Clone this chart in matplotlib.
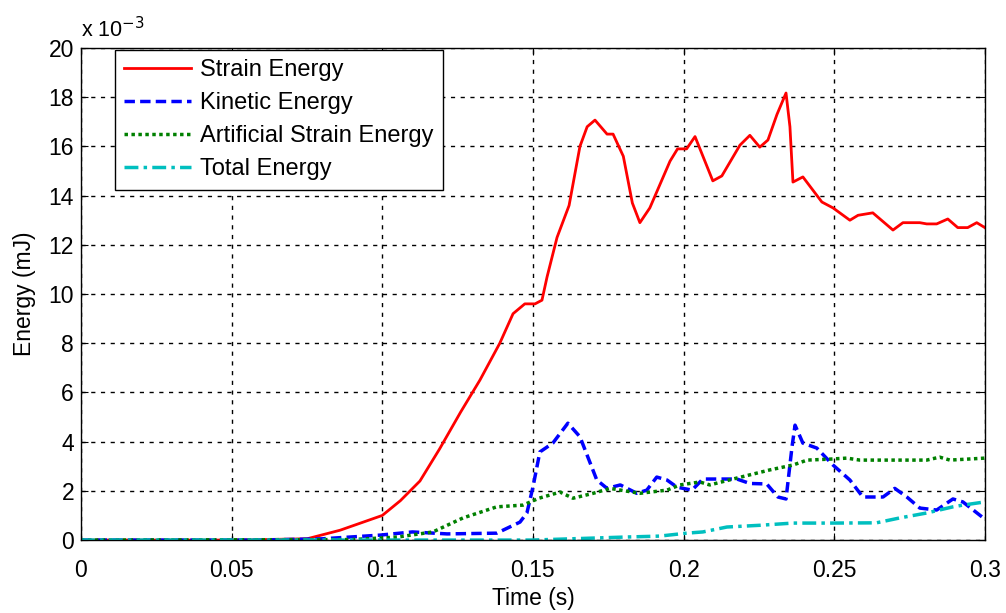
import matplotlib
matplotlib.use('Agg')
from matplotlib import pyplot as plt

plt.rcParams['font.family'] = ['Liberation Sans', 'DejaVu Sans']

# values in units of 1e-3 mJ
t_strain = [0, 0.05, 0.075, 0.086, 0.1, 0.106, 0.1125, 0.119, 0.126, 0.1324, 0.139, 0.1434,
            0.1473, 0.1507, 0.153, 0.1547, 0.158, 0.162, 0.1656, 0.168, 0.1706, 0.1746, 0.1766,
            0.18, 0.183, 0.1855, 0.1888, 0.1955, 0.198, 0.201, 0.2038, 0.2097, 0.2127, 0.2187,
            0.222, 0.2253, 0.228, 0.231, 0.234, 0.2353, 0.2363, 0.2396, 0.2459, 0.2496, 0.2552,
            0.2579, 0.2628, 0.2695, 0.2728, 0.2784, 0.2807, 0.284, 0.2877, 0.291, 0.2943,
            0.2973, 0.3]
strain = [0, 0, 0.05, 0.4, 1.0, 1.6, 2.4, 3.7, 5.2, 6.5, 8.0, 9.2,
          9.6, 9.6, 9.75, 10.7, 12.3, 13.6, 16.0, 16.8, 17.07, 16.5, 16.5,
          15.6, 13.7, 12.9, 13.5, 15.4, 15.9, 15.9, 16.4, 14.6, 14.8, 16.05,
          16.45, 15.97, 16.26, 17.3, 18.17, 16.8, 14.55, 14.76, 13.74, 13.5, 13.0,
          13.2, 13.3, 12.6, 12.9, 12.9, 12.85, 12.85, 13.05, 12.7, 12.7,
          12.9, 12.7]

t_kinetic = [0, 0.06, 0.08, 0.0992, 0.110, 0.1215, 0.138, 0.1457, 0.148, 0.15, 0.1523, 0.1566,
             0.1616, 0.1656, 0.1712, 0.1746, 0.179, 0.1845, 0.1878, 0.1911, 0.1945, 0.1978,
             0.2028, 0.2064, 0.2177, 0.222, 0.2276, 0.2313, 0.234, 0.236, 0.237, 0.2396,
             0.2442, 0.2496, 0.2552, 0.2595, 0.2662, 0.2701, 0.2741, 0.2784, 0.284, 0.2894,
             0.2927, 0.3]
kinetic = [0, 0, 0.05, 0.2, 0.33, 0.25, 0.28, 0.73, 1.1, 2.15, 3.58, 3.94,
           4.75, 4.2, 2.44, 2.1, 2.24, 1.9, 2.03, 2.56, 2.44, 2.15,
           2.03, 2.48, 2.48, 2.3, 2.28, 1.75, 1.67, 3.8, 4.67, 3.94,
           3.74, 3.05, 2.44, 1.75, 1.75, 2.1, 1.75, 1.3, 1.22, 1.67,
           1.55, 0.85]

t_artificial = [0, 0.09, 0.105, 0.1168, 0.1268, 0.138, 0.1467, 0.152, 0.159, 0.1633, 0.17,
                0.1756, 0.1855, 0.1945, 0.1988, 0.2054, 0.2087, 0.2177, 0.2286, 0.2363, 0.241,
                0.2486, 0.2542, 0.2585, 0.2807, 0.285, 0.2884, 0.3]
artificial = [0, 0.02, 0.12, 0.33, 0.9, 1.35, 1.42, 1.7, 1.95, 1.7, 1.9,
              2.1, 1.9, 2.03, 2.24, 2.36, 2.24, 2.52, 2.85, 3.05, 3.25,
              3.29, 3.33, 3.25, 3.25, 3.37, 3.25, 3.33]

t_total = [0, 0.15, 0.18, 0.192, 0.201, 0.2064, 0.2144, 0.2253, 0.2363, 0.2496, 0.264, 0.2718,
           0.2807, 0.2894, 0.2927, 0.3]
total = [0, 0, 0.12, 0.16, 0.28, 0.33, 0.53, 0.6, 0.69, 0.69, 0.7, 0.9,
         1.1, 1.35, 1.42, 1.55]

series_labels = ['Strain Energy', 'Kinetic Energy', 'Artificial Strain Energy', 'Total Energy']
x_ticks = [0, 0.05, 0.1, 0.15, 0.2, 0.25, 0.3]
x_tick_labels = ['0', '0.05', '0.1', '0.15', '0.2', '0.25', '0.3']
y_ticks = [0, 2, 4, 6, 8, 10, 12, 14, 16, 18, 20]

fs = 16.5

fig = plt.figure(figsize=(10.06, 6.13), dpi=100)
ax = fig.add_axes([0.0805, 0.119, 0.8985, 0.8027])

ax.plot(t_strain, strain, color='red', lw=2, ls='-', label=series_labels[0])
ax.plot(t_kinetic, kinetic, color='blue', lw=2.5, ls=(0, (3, 1.5)), label=series_labels[1])
ax.plot(t_artificial, artificial, color='green', lw=2.5, ls=(0, (1, 1)), label=series_labels[2])
ax.plot(t_total, total, color='#00BFBF', lw=2.5, ls=(0, (4, 1.5, 1, 1.5)), label=series_labels[3])

ax.set_xlim(0, 0.3)
ax.set_ylim(0, 20)
ax.set_xticks(x_ticks)
ax.set_xticklabels(x_tick_labels)
ax.set_yticks(y_ticks)
ax.tick_params(direction='in', top=True, right=True, labelsize=fs, length=5)
ax.tick_params(axis='x', pad=14)
ax.tick_params(axis='y', pad=5)
ax.grid(True, color='black', ls=(0, (3, 4)), lw=1)
for s in ax.spines.values():
    s.set_linewidth(1)

ax.set_xlabel('Time (s)', fontsize=fs, labelpad=3)
ax.set_ylabel('Energy (mJ)', fontsize=fs, labelpad=9)
ax.text(0.0, 1.012, r'x 10$^{-3}$', transform=ax.transAxes, fontsize=15.5, ha='left', va='bottom')

leg = ax.legend(loc='upper left', bbox_to_anchor=(0.0376, 0.996), fontsize=17, fancybox=False,
                edgecolor='black', framealpha=1, handlelength=2.8, borderpad=0.4,
                labelspacing=0.465, handletextpad=0.4, borderaxespad=0)
leg.get_frame().set_linewidth(1)

fig.savefig('out.png', dpi=100)
